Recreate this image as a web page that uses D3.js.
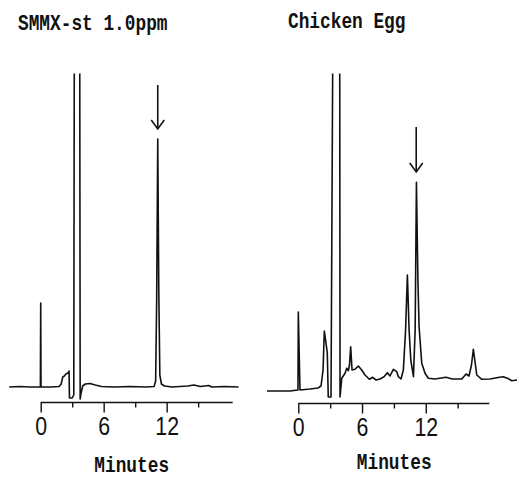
<!DOCTYPE html>
<html>
<head>
<meta charset="utf-8">
<script src="https://cdn.jsdelivr.net/npm/d3@7"></script>
<style>
  body { margin: 0; background: #fff; }
  svg { display: block; }
  .trace { fill: none; stroke: #111; stroke-width: 1.6; stroke-linejoin: round; }
  .title, .xlabel { font-family: "Liberation Mono", "DejaVu Sans Mono", monospace; font-weight: bold; font-size: 17.8px; fill: #111; }
  .axis path, .axis line { stroke: #111; stroke-width: 1.4; }
  .axis text { font-family: "Liberation Sans", Arial, sans-serif; font-size: 26px; fill: #111; }
</style>
</head>
<body>
<div class="vis-chrom"></div>
<script>
// ---- data (time in minutes, detector response in arbitrary units) ----
const tickValues = [0, 3, 6, 9, 12, 15];
const tickLabels = ["0", "", "6", "", "12", ""];
const titles = ["SMMX-st 1.0ppm", "Chicken Egg"];
const xLabel = "Minutes";

// standard 1.0 ppm
const stdTime = [-3.0, -2.0, -1.0, -0.03, 0, 0.03, 1.0, 1.75, 1.95, 2.1, 2.25, 2.4, 2.6, 2.7, 2.74, 3.0, 3.15, 3.2, 3.72, 3.76, 3.85, 4.0, 4.25, 4.7, 5.2, 5.8, 7.0, 8.5, 10.0, 10.8, 10.95, 11.05, 11.15, 11.25, 11.35, 11.5, 11.8, 12.5, 14.0, 14.6, 15.2, 16.0, 16.3, 17.5, 18.85];
const stdSignal = [0, 0.5, 0, 0, 84, 0, 0, 0.5, 3, 10, 11, 13, 14, 16, -11, -11, -8, 330, 330, -12, -6, 1, 3, 3.5, 2, 0.5, 0, 0.5, 0, 0.5, 6, 90, 248, 95, 12, 3, 1, 0, 1, 2, 0.5, 1.5, 0, 0.5, 0];

// chicken egg extract
const eggTime = [-2.95, -0.78, -0.03, 0, 0.16, 1.1, 1.85, 2.14, 2.33, 2.45, 2.61, 2.73, 2.82, 3.08, 3.24, 3.9, 3.93, 4.09, 4.4, 4.56, 4.71, 4.82, 4.93, 5.06, 5.34, 5.65, 5.97, 6.28, 6.69, 7.0, 7.32, 7.69, 8.07, 8.38, 8.63, 8.95, 9.27, 9.42, 9.67, 9.89, 10.1, 10.27, 10.43, 10.59, 10.84, 11.0, 11.12, 11.26, 11.37, 11.62, 11.93, 12.24, 12.87, 13.9, 14.5, 15.39, 15.79, 16.07, 16.3, 16.48, 16.64, 16.8, 17.27, 18.05, 18.8, 19.3, 19.74, 20.09, 20.6];
const eggSignal = [-1, -1, 0, 78, 0, 1, 2, 4, 20, 59, 47, 37, -7, -7, 330, 330, -7, 11.7, 16.7, 21.7, 19.3, 25, 43.3, 20, 20.7, 24, 20, 15, 10.7, 12.7, 10, 11, 13.3, 17.3, 14, 20.7, 18.3, 13.3, 11, 20, 60, 115, 60, 30, 13.3, 60, 207.7, 110, 63.3, 26.7, 16.7, 11.7, 11, 12.7, 11, 11, 16, 14, 25, 40.7, 28, 15, 10.7, 11, 12.5, 13.3, 11.5, 9.3, 10];

// arrows marking the SMMX peak: [time, tip, tail]
const stdArrow = [11.15, 258, 302];
const eggArrow = [11.1, 218, 263];

// ---- layout ----
const width = 517, height = 478;
const panels = [
  { time: stdTime, signal: stdSignal, arrow: stdArrow, title: titles[0],
    x0: 40.7, x1: 232.7, tMax: 18.29, base: 387, axisY: 402.5,
    titleX: 18, titleY: 29.5, labelX: 131.7, labelY: 471.5 },
  { time: eggTime, signal: eggSignal, arrow: eggArrow, title: titles[1],
    x0: 298.3, x1: 489.3, tMax: 17.98, base: 390, axisY: 403.5,
    titleX: 288, titleY: 27.5, labelX: 394.2, labelY: 468.5 },
];

const svg = d3
  .select(".vis-chrom")
  .append("svg")
  .attr("width", width)
  .attr("height", height);

svg.append("defs")
  .append("clipPath")
  .attr("id", "clipTop")
  .append("rect")
  .attr("x", 0)
  .attr("y", 73.5)
  .attr("width", width)
  .attr("height", height);

panels.forEach((p, i) => {
  const xScale = d3.scaleLinear().domain([0, p.tMax]).range([p.x0, p.x1]);
  // 1 unit of response = 1 px
  const yScale = d3.scaleLinear().domain([-20, 320]).range([p.base + 20, p.base - 320]);

  const g = svg.append("g").attr("class", "panel-" + i);

  // title
  g.append("text")
    .attr("class", "title")
    .attr("transform", "translate(" + p.titleX + "," + p.titleY + ") scale(1,1.2)")
    .text(p.title);

  // trace
  const line = d3
    .line()
    .x((d) => xScale(d[0]))
    .y((d) => yScale(d[1]));
  g.append("path")
    .datum(d3.zip(p.time, p.signal))
    .attr("class", "trace")
    .attr("clip-path", "url(#clipTop)")
    .attr("d", line);

  // arrow over the peak
  const ax = xScale(p.arrow[0]);
  const tip = yScale(p.arrow[1]);
  g.append("line")
    .attr("x1", ax).attr("x2", ax)
    .attr("y1", yScale(p.arrow[2])).attr("y2", tip)
    .attr("stroke", "#111").attr("stroke-width", 1.6);
  g.append("path")
    .attr("d", "M" + (ax - 6.5) + "," + (tip - 9) + "L" + ax + "," + tip + "L" + (ax + 6.5) + "," + (tip - 9))
    .attr("fill", "none").attr("stroke", "#111").attr("stroke-width", 1.6);

  // x axis
  const xAxis = d3
    .axisBottom(xScale)
    .tickValues(tickValues)
    .tickSizeOuter(0)
    .tickSize(10)
    .tickFormat((d, j) => tickLabels[j]);
  const axisG = g.append("g")
    .attr("class", "axis")
    .attr("transform", "translate(0," + p.axisY + ")")
    .call(xAxis);
  axisG.select(".domain").attr("d", "M" + p.x0 + ",0H" + p.x1);
  axisG.selectAll(".tick line").attr("y2", (d, j) => (tickLabels[j] ? 10 : 5));
  // narrow digits like the original plotter font
  axisG.selectAll(".tick text").attr("y", 32.5).attr("dy", 0).attr("transform", "scale(0.82,1)");

  // x label
  g.append("text")
    .attr("class", "xlabel")
    .attr("text-anchor", "middle")
    .attr("transform", "translate(" + p.labelX + "," + p.labelY + ") scale(1,1.2)")
    .text(xLabel);
});
</script>
</body>
</html>
